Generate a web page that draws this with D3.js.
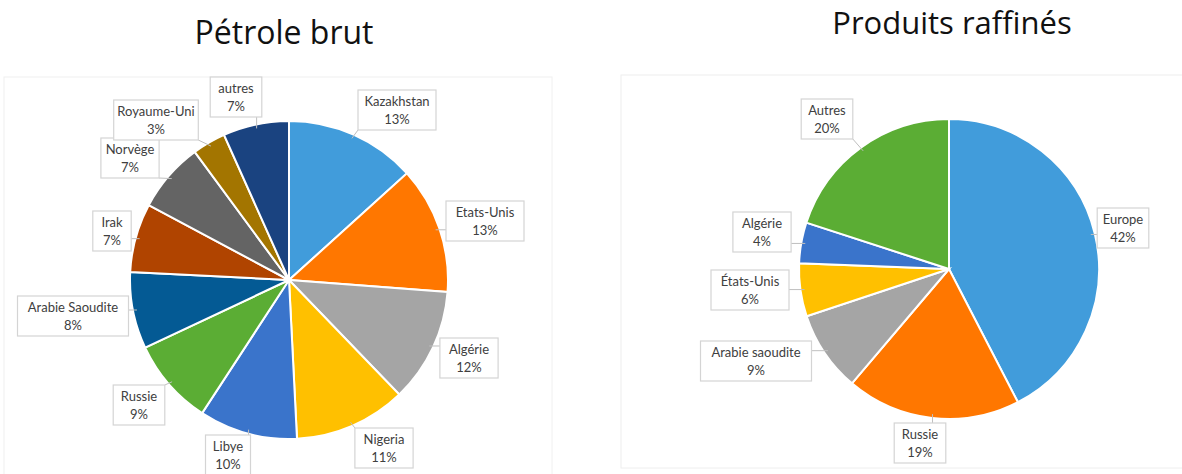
<!DOCTYPE html>
<html>
<head>
<meta charset="utf-8">
<script src="https://cdn.jsdelivr.net/npm/d3@7"></script>
<style>
  body { margin: 0; background: #fff; }
  svg { display: block; }
  .title { font-family: "Open Sans", sans-serif; font-size: 32px; fill: #111; }
  .title2 { font-size: 31px; }
  .lbl { font-family: Lato, "Open Sans", sans-serif; font-size: 13px; fill: #404040; }
</style>
</head>
<body>
<div id="chart"></div>
<script>
// Pétrole brut
var crudeNames = ["Kazakhstan", "Etats-Unis", "Algérie", "Nigeria", "Libye", "Russie",
                  "Arabie Saoudite", "Irak", "Norvège", "Royaume-Uni", "autres"];
var crudeValues = [13.3, 12.9, 11.6, 11.4, 10.0, 8.8, 7.8, 7.0, 7.1, 3.4, 6.7];
var crudeColors = ["#419cdb", "#ff7700", "#a5a5a5", "#ffc000", "#3a74cb", "#5bad34",
                   "#045a94", "#b04400", "#646464", "#a37500", "#1a4380"];

// Produits raffinés
var refinedNames = ["Europe", "Russie", "Arabie saoudite", "États-Unis", "Algérie", "Autres"];
var refinedValues = [42.4, 18.8, 8.7, 5.7, 4.4, 20.0];
var refinedColors = ["#419cdb", "#ff7700", "#a5a5a5", "#ffc000", "#3a74cb", "#5bad34"];

// label box centres (layout only)
var crudeLabelPos = [[397, 110], [485, 221], [469, 358], [384, 448], [228, 455], [139, 405],
                     [73, 316], [112, 231], [130, 158], [156, 120], [236, 97]];
var refinedLabelPos = [[1123, 228], [920, 443], [756, 361], [750, 290], [762, 232], [827, 119]];

var svgwidth = 1182;
var svgheight = 474;

var svg = d3.select("#chart").append("svg").attr("width", svgwidth).attr("height", svgheight);

// faint panel frames
svg.append("rect").attr("x", 4).attr("y", 77).attr("width", 548).attr("height", 420)
    .attr("fill", "none").attr("stroke", "#f0f0f0");
svg.append("rect").attr("x", 621).attr("y", 75).attr("width", 570).attr("height", 393)
    .attr("fill", "none").attr("stroke", "#eeeeee");

svg.append("text").attr("class", "title").attr("x", 284).attr("y", 44)
    .attr("text-anchor", "middle").text("Pétrole brut");
svg.append("text").attr("class", "title title2").attr("x", 952).attr("y", 34)
    .attr("text-anchor", "middle").text("Produits raffinés");

function drawPie(cx, cy, r, names, values, colors, labelPos) {
    var pie = d3.pie().sort(null).value(d => d);
    var arcs = pie(values);
    var arc = d3.arc().innerRadius(0).outerRadius(r);
    var g = svg.append("g").attr("transform", `translate(${cx}, ${cy})`);

    g.selectAll("path.slice")
        .data(arcs)
        .enter()
        .append("path")
        .attr("class", "slice")
        .attr("d", arc)
        .attr("fill", (d, i) => colors[i])
        .attr("stroke", "#fff")
        .attr("stroke-width", 2);

    var total = d3.sum(values);

    arcs.forEach(function(d, i) {
        var pct = Math.round(d.data / total * 100) + "%";
        var lx = labelPos[i][0], ly = labelPos[i][1];
        var w = Math.max(names[i].length * 6.6 + 12, 34);
        var h = 40;
        var x0 = lx - w / 2, y0 = ly - h / 2;

        // leader from slice edge to the closest point of the box
        var mid = (d.startAngle + d.endAngle) / 2;
        var ax = cx + Math.sin(mid) * (r - 4);
        var ay = cy - Math.cos(mid) * (r - 4);
        var bx = Math.max(x0, Math.min(ax, x0 + w));
        var by = Math.max(y0, Math.min(ay, y0 + h));
        svg.append("line")
            .attr("x1", ax).attr("y1", ay).attr("x2", bx).attr("y2", by)
            .attr("stroke", "#bfbfbf").attr("stroke-width", 1);

        svg.append("rect")
            .attr("x", x0).attr("y", y0).attr("width", w).attr("height", h)
            .attr("fill", "#fff").attr("stroke", "#d4d4d4").attr("stroke-width", 1.2);

        var t = svg.append("text").attr("class", "lbl").attr("text-anchor", "middle");
        t.append("tspan").attr("x", lx).attr("y", ly - 4).text(names[i]);
        t.append("tspan").attr("x", lx).attr("y", ly + 14).text(pct);
    });
}

drawPie(289, 280, 159, crudeNames, crudeValues, crudeColors, crudeLabelPos);
drawPie(949, 269, 150, refinedNames, refinedValues, refinedColors, refinedLabelPos);
</script>
</body>
</html>
